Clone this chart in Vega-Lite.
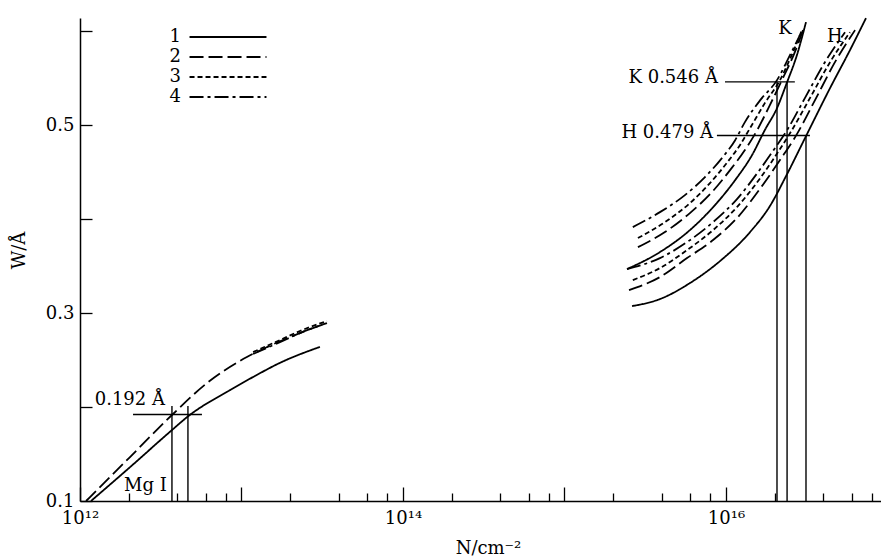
{
  "$schema": "https://vega.github.io/schema/vega-lite/v6.json",
  "width": 801,
  "height": 483,
  "autosize": {"type": "none"},
  "padding": {"left": 80, "top": 18, "right": 0, "bottom": 57},
  "background": "white",
  "config": {
    "font": "DejaVu Serif",
    "view": {"stroke": null},
    "axis": {"domainColor": "black", "domainWidth": 1.5, "tickColor": "black", "tickWidth": 1.3, "labelColor": "black", "titleColor": "black", "labelFontSize": 18, "titleFontSize": 18, "titleFontWeight": "normal", "grid": false, "labelFont": "DejaVu Serif", "titleFont": "DejaVu Serif"},
    "legend": {"labelFont": "DejaVu Serif"}
  },
  "resolve": {"axis": {"x": "independent"}},
  "layer": [
    {
      "data": {"values": [
        {"g":"Mg","s":"1","N":1.17e12,"W":0.1},{"g":"Mg","s":"1","N":2.04e12,"W":0.136},{"g":"Mg","s":"1","N":3.71e12,"W":0.1755},{"g":"Mg","s":"1","N":4.66e12,"W":0.19},{"g":"Mg","s":"1","N":8.49e12,"W":0.218},{"g":"Mg","s":"1","N":1.21e13,"W":0.233},{"g":"Mg","s":"1","N":1.73e13,"W":0.247},{"g":"Mg","s":"1","N":3.06e13,"W":0.264},
        {"g":"Mg","s":"2","N":1.09e12,"W":0.1},{"g":"Mg","s":"2","N":2.04e12,"W":0.1468},{"g":"Mg","s":"2","N":3.71e12,"W":0.1915},{"g":"Mg","s":"2","N":6.11e12,"W":0.2255},{"g":"Mg","s":"2","N":1.08e13,"W":0.2532},{"g":"Mg","s":"2","N":1.44e13,"W":0.2638},{"g":"Mg","s":"2","N":2.3e13,"W":0.2787},{"g":"Mg","s":"2","N":3.38e13,"W":0.2894},
        {"g":"Mg","s":"3","N":1.18e13,"W":0.2585},{"g":"Mg","s":"3","N":1.73e13,"W":0.2713},{"g":"Mg","s":"3","N":2.3e13,"W":0.2809},{"g":"Mg","s":"3","N":3.38e13,"W":0.2915},
        {"g":"Mg","s":"4","N":1.18e13,"W":0.2564},{"g":"Mg","s":"4","N":1.73e13,"W":0.2691},{"g":"Mg","s":"4","N":2.3e13,"W":0.2787},{"g":"Mg","s":"4","N":3.38e13,"W":0.2894},
        {"g":"H","s":"1","N":2.62e15,"W":0.3074},{"g":"H","s":"1","N":3.9e15,"W":0.3149},{"g":"H","s":"1","N":5.98e15,"W":0.3319},{"g":"H","s":"1","N":9.18e15,"W":0.3553},{"g":"H","s":"1","N":1.41e16,"W":0.3862},{"g":"H","s":"1","N":1.87e16,"W":0.4138},{"g":"H","s":"1","N":2.39e16,"W":0.4479},{"g":"H","s":"1","N":3.13e16,"W":0.4883},{"g":"H","s":"1","N":4.41e16,"W":0.5394},{"g":"H","s":"1","N":5.86e16,"W":0.5798},{"g":"H","s":"1","N":7.36e16,"W":0.6138},
        {"g":"H","s":"2","N":2.51e15,"W":0.3245},{"g":"H","s":"2","N":3.9e15,"W":0.3383},{"g":"H","s":"2","N":5.74e15,"W":0.3585},{"g":"H","s":"2","N":8.32e15,"W":0.3777},{"g":"H","s":"2","N":1.17e16,"W":0.4011},{"g":"H","s":"2","N":1.67e16,"W":0.4351},{"g":"H","s":"2","N":2.16e16,"W":0.4628},{"g":"H","s":"2","N":2.75e16,"W":0.4904},{"g":"H","s":"2","N":3.56e16,"W":0.5266},{"g":"H","s":"2","N":4.73e16,"W":0.567},{"g":"H","s":"2","N":6.3e16,"W":0.6011},
        {"g":"H","s":"3","N":2.65e15,"W":0.3351},{"g":"H","s":"3","N":3.9e15,"W":0.3479},{"g":"H","s":"3","N":5.74e15,"W":0.367},{"g":"H","s":"3","N":8.32e15,"W":0.3883},{"g":"H","s":"3","N":1.17e16,"W":0.4128},{"g":"H","s":"3","N":1.63e16,"W":0.4436},{"g":"H","s":"3","N":2.1e16,"W":0.4713},{"g":"H","s":"3","N":2.56e16,"W":0.4947},{"g":"H","s":"3","N":3.31e16,"W":0.5287},{"g":"H","s":"3","N":4.41e16,"W":0.567},{"g":"H","s":"3","N":5.86e16,"W":0.5989},
        {"g":"H","s":"4","N":2.44e15,"W":0.3468},{"g":"H","s":"4","N":3.9e15,"W":0.3585},{"g":"H","s":"4","N":5.74e15,"W":0.3755},{"g":"H","s":"4","N":8.32e15,"W":0.3968},{"g":"H","s":"4","N":1.17e16,"W":0.4213},{"g":"H","s":"4","N":1.58e16,"W":0.45},{"g":"H","s":"4","N":2.01e16,"W":0.4755},{"g":"H","s":"4","N":2.39e16,"W":0.4947},{"g":"H","s":"4","N":3.08e16,"W":0.5287},{"g":"H","s":"4","N":4.1e16,"W":0.567},{"g":"H","s":"4","N":5.46e16,"W":0.5989},
        {"g":"K","s":"1","N":2.44e15,"W":0.3468},{"g":"K","s":"1","N":3.9e15,"W":0.3649},{"g":"K","s":"1","N":5.98e15,"W":0.3883},{"g":"K","s":"1","N":8.55e15,"W":0.4149},{"g":"K","s":"1","N":1.14e16,"W":0.4415},{"g":"K","s":"1","N":1.45e16,"W":0.4681},{"g":"K","s":"1","N":1.74e16,"W":0.4947},{"g":"K","s":"1","N":2.07e16,"W":0.5181},{"g":"K","s":"1","N":2.39e16,"W":0.5457},{"g":"K","s":"1","N":2.75e16,"W":0.5745},{"g":"K","s":"1","N":3.13e16,"W":0.6096},
        {"g":"K","s":"2","N":2.85e15,"W":0.3702},{"g":"K","s":"2","N":4.19e15,"W":0.3862},{"g":"K","s":"2","N":5.98e15,"W":0.4064},{"g":"K","s":"2","N":8.19e15,"W":0.4287},{"g":"K","s":"2","N":1.06e16,"W":0.4521},{"g":"K","s":"2","N":1.31e16,"W":0.4734},{"g":"K","s":"2","N":1.56e16,"W":0.4947},{"g":"K","s":"2","N":1.87e16,"W":0.5213},{"g":"K","s":"2","N":2.22e16,"W":0.5479},{"g":"K","s":"2","N":2.67e16,"W":0.5777},{"g":"K","s":"2","N":3.0e16,"W":0.6011},
        {"g":"K","s":"3","N":2.85e15,"W":0.3798},{"g":"K","s":"3","N":4.19e15,"W":0.3968},{"g":"K","s":"3","N":5.98e15,"W":0.417},{"g":"K","s":"3","N":7.96e15,"W":0.4383},{"g":"K","s":"3","N":1.01e16,"W":0.4596},{"g":"K","s":"3","N":1.22e16,"W":0.4787},{"g":"K","s":"3","N":1.41e16,"W":0.4968},{"g":"K","s":"3","N":1.74e16,"W":0.5234},{"g":"K","s":"3","N":2.16e16,"W":0.5479},{"g":"K","s":"3","N":2.6e16,"W":0.5777},{"g":"K","s":"3","N":2.95e16,"W":0.6011},
        {"g":"K","s":"4","N":2.65e15,"W":0.3915},{"g":"K","s":"4","N":3.9e15,"W":0.4074},{"g":"K","s":"4","N":5.57e15,"W":0.4255},{"g":"K","s":"4","N":7.41e15,"W":0.4447},{"g":"K","s":"4","N":9.44e15,"W":0.4649},{"g":"K","s":"4","N":1.14e16,"W":0.484},{"g":"K","s":"4","N":1.31e16,"W":0.5032},{"g":"K","s":"4","N":1.63e16,"W":0.5266},{"g":"K","s":"4","N":2.07e16,"W":0.5479},{"g":"K","s":"4","N":2.49e16,"W":0.5745},{"g":"K","s":"4","N":2.87e16,"W":0.5957}
      ]},
      "mark": {"type": "line", "color": "black", "strokeWidth": 1.8, "interpolate": "monotone"},
      "encoding": {
        "x": {"field": "N", "type": "quantitative", "scale": {"type": "log", "domain": [1e12, 9.12e16], "nice": false},
          "axis": {"orient": "bottom", "values": [1e12, 1e13, 1e14, 1e15, 1e16], "labelExpr": "datum.value == 1e12 ? '10¹²' : datum.value == 1e14 ? '10¹⁴' : datum.value == 1e16 ? '10¹⁶' : ''", "tickSize": -14, "labelPadding": 22, "labelFlush": false, "labelOverlap": false, "title": "N/cm⁻²", "titleX": 408, "titleY": 52, "titleBaseline": "alphabetic"}},
        "y": {"field": "W", "type": "quantitative", "scale": {"domain": [0.1, 0.614], "nice": false, "zero": false},
          "axis": {"values": [0.1, 0.2, 0.3, 0.4, 0.5, 0.6], "format": ".1f", "labelExpr": "indexof(['0.1','0.3','0.5'], datum.label) >= 0 ? datum.label : ''", "tickSize": -12, "labelPadding": 18, "labelFlush": false, "labelOverlap": false, "title": "W/Å", "titleX": -52, "titleY": 232}},
        "detail": {"field": "g"},
        "strokeDash": {"field": "s", "type": "nominal", "scale": {"domain": ["1", "2", "3", "4"], "range": [[1, 0], [14, 5], [5, 3], [14, 4, 3, 4]]},
          "legend": {"orient": "none", "legendX": 137, "legendY": 8, "title": null, "padding": 0, "symbolType": "M-4,0L4,0", "symbolSize": 370, "symbolStrokeWidth": 2, "symbolStrokeColor": "black", "symbolFillColor": "transparent", "labelAlign": "right", "labelOffset": -58, "labelFontSize": 18, "labelColor": "black", "rowPadding": 0}}
      }
    },
    {
      "data": {"values": [
        {"N": 2.13e12, "N2": 5.69e12, "W": 0.192, "W2": 0.192},
        {"N": 3.71e12, "N2": 3.71e12, "W": 0.1, "W2": 0.201},
        {"N": 4.66e12, "N2": 4.66e12, "W": 0.1, "W2": 0.201},
        {"N": 9.86e15, "N2": 2.67e16, "W": 0.546, "W2": 0.546},
        {"N": 2.07e16, "N2": 2.07e16, "W": 0.1, "W2": 0.546},
        {"N": 2.39e16, "N2": 2.39e16, "W": 0.1, "W2": 0.546},
        {"N": 8.79e15, "N2": 3.31e16, "W": 0.489, "W2": 0.489},
        {"N": 3.13e16, "N2": 3.13e16, "W": 0.1, "W2": 0.489}
      ]},
      "mark": {"type": "rule", "color": "black", "strokeWidth": 1.4},
      "encoding": {
        "x": {"field": "N", "type": "quantitative",
          "axis": {"orient": "bottom", "values": [2e12, 4e12, 6e12, 8e12, 2e13, 4e13, 6e13, 8e13, 2e14, 4e14, 6e14, 8e14, 2e15, 4e15, 6e15, 8e15, 2e16, 4e16, 6e16, 8e16], "labels": false, "domain": false, "tickSize": -8, "title": null}},
        "x2": {"field": "N2"},
        "y": {"field": "W", "type": "quantitative"},
        "y2": {"field": "W2"}
      }
    },
    {
      "data": {"values": [
        {"N": 3.36e12, "W": 0.202, "t": "0.192 Å"},
        {"N": 8.92e15, "W": 0.5447, "t": "K 0.546 Å"},
        {"N": 8.32e15, "W": 0.4862, "t": "H 0.479 Å"}
      ]},
      "mark": {"type": "text", "align": "right", "baseline": "alphabetic", "fontSize": 18, "color": "black", "font": "DejaVu Serif"},
      "encoding": {
        "x": {"field": "N", "type": "quantitative", "axis": null},
        "y": {"field": "W", "type": "quantitative"},
        "text": {"field": "t"}
      }
    },
    {
      "data": {"values": [
        {"N": 2.54e12, "W": 0.1106, "t": "Mg I"},
        {"N": 2.32e16, "W": 0.5968, "t": "K"},
        {"N": 4.73e16, "W": 0.588, "t": "H"}
      ]},
      "mark": {"type": "text", "align": "center", "baseline": "alphabetic", "fontSize": 18, "color": "black", "font": "DejaVu Serif"},
      "encoding": {
        "x": {"field": "N", "type": "quantitative", "axis": null},
        "y": {"field": "W", "type": "quantitative"},
        "text": {"field": "t"}
      }
    }
  ]
}
